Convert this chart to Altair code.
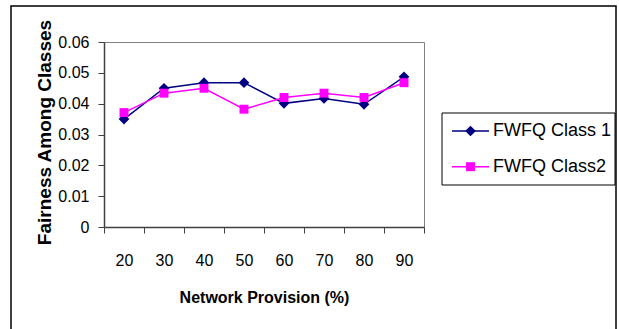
import altair as alt
import pandas as pd

provision = [20, 30, 40, 50, 60, 70, 80, 90]
class1 = [0.035, 0.045, 0.0468, 0.0468, 0.0401, 0.0417, 0.0398, 0.0487]
class2 = [0.0371, 0.0434, 0.045, 0.0382, 0.042, 0.0434, 0.042, 0.0468]
series_names = ["FWFQ Class 1", "FWFQ Class2"]
series_colors = ["#000080", "#FF00FF"]
series_shapes = ["diamond", "square"]
series_sizes = [115, 80]
y_ticks = [0, 0.01, 0.02, 0.03, 0.04, 0.05, 0.06]

FONT = "Liberation Sans, Arial, sans-serif"

rows = []
for p, a, b in zip(provision, class1, class2):
    rows.append({"provision": p, "value": a, "series": series_names[0]})
    rows.append({"provision": p, "value": b, "series": series_names[1]})
df = pd.DataFrame(rows)
legend_df = pd.DataFrame({"series": series_names})

color_scale = alt.Scale(domain=series_names, range=series_colors)
shape_scale = alt.Scale(domain=series_names, range=series_shapes)
size_scale = alt.Scale(domain=series_names, range=series_sizes)

x_enc = alt.X(
    "provision:O",
    scale=alt.Scale(type="band", paddingInner=0, paddingOuter=0),
    axis=alt.Axis(
        title="Network Provision (%)",
        labelAngle=0,
        tickBand="extent",
        labelFontSize=16,
        labelPadding=19,
        tickSize=6,
        titleFontSize=16,
        titleFontWeight="bold",
        titleY=75,
        titleBaseline="alphabetic",
        grid=False,
    ),
)
y_enc = alt.Y(
    "value:Q",
    scale=alt.Scale(domain=[0, 0.06], nice=False, zero=True),
    axis=alt.Axis(
        title="Fairness Among Classes",
        values=y_ticks,
        labelExpr="datum.value == 0 ? '0' : format(datum.value, '.2f')",
        labelFontSize=16,
        labelPadding=9,
        tickSize=6,
        titleFontSize=19,
        titleFontWeight="bold",
        titleAngle=270,
        titleX=-54,
        titleY=90,
        titleAlign="center",
        titleBaseline="alphabetic",
        grid=False,
    ),
)

base = alt.Chart(df).encode(
    x=x_enc,
    y=y_enc,
    color=alt.Color("series:N", scale=color_scale, legend=None),
)
lines = base.mark_line(strokeWidth=1.5)
points = base.mark_point(filled=True, opacity=1).encode(
    shape=alt.Shape("series:N", scale=shape_scale, legend=None),
    size=alt.Size("series:N", scale=size_scale, legend=None),
)
main = alt.layer(lines, points)

one = alt.Data(values=[{"k": 1}])
outer_border = alt.Chart(one).mark_rect(fill=None, stroke="black", strokeWidth=1.5).encode(
    x=alt.value(-93), x2=alt.value(512), y=alt.value(-36), y2=alt.value(300)
)
legend_box = alt.Chart(one).mark_rect(fill="white", stroke="black", strokeWidth=1).encode(
    x=alt.value(338), x2=alt.value(511), y=alt.value(71), y2=alt.value(143)
)

leg_base = alt.Chart(legend_df).encode(
    y=alt.Y("series:N", scale=alt.Scale(type="point", domain=series_names, range=[89, 124.7], padding=0), axis=None),
    color=alt.Color("series:N", scale=color_scale, legend=None),
)
leg_rule = leg_base.mark_rule(strokeWidth=1.5).encode(x=alt.value(348), x2=alt.value(385))
leg_point = leg_base.mark_point(filled=True, opacity=1).encode(
    x=alt.value(366.5),
    shape=alt.Shape("series:N", scale=shape_scale, legend=None),
    size=alt.Size("series:N", scale=size_scale, legend=None),
)
leg_text = leg_base.mark_text(align="left", baseline="middle", fontSize=18, font=FONT).encode(
    x=alt.value(389), text="series:N", color=alt.value("black")
)
legend = alt.layer(leg_rule, leg_point, leg_text)

chart = (
    alt.layer(outer_border, main, legend_box, legend)
    .resolve_scale(y="independent")
    .properties(
        width=320,
        height=185,
        padding={"left": 104, "top": 42, "right": 195, "bottom": 102},
        autosize=alt.AutoSizeParams(type="none"),
        background="white",
    )
    .configure_view(stroke="#808080", strokeWidth=1)
    .configure_axis(
        labelFont=FONT,
        titleFont=FONT,
        labelColor="black",
        titleColor="black",
        domainColor="#404040",
        domainWidth=1.5,
        tickColor="#404040",
        tickWidth=1,
    )
    .configure_text(font=FONT)
)

chart.save("out.html", embed_options={"renderer": "svg", "actions": False})
